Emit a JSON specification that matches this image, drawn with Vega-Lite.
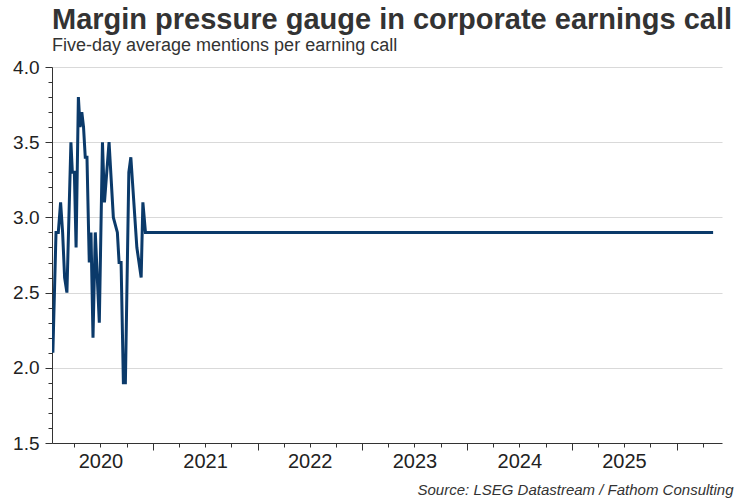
{
  "$schema": "https://vega.github.io/schema/vega-lite/v6.json",
  "width": 670,
  "height": 376,
  "autosize": "none",
  "padding": {"left": 52, "top": 67, "right": 28, "bottom": 57},
  "background": "white",
  "title": {
    "text": "Margin pressure gauge in corporate earnings call",
    "subtitle": "Five-day average mentions per earning call",
    "anchor": "start",
    "frame": "group",
    "offset": 3,
    "font": "Liberation Sans",
    "fontSize": 29,
    "fontWeight": "bold",
    "color": "#333333",
    "subtitleFont": "Liberation Sans",
    "subtitleFontSize": 18,
    "subtitleColor": "#333333",
    "subtitlePadding": 2
  },
  "config": {
    "view": {"stroke": null},
    "axis": {
      "labelFont": "Liberation Sans",
      "titleFont": "Liberation Sans",
      "domainColor": "#333333",
      "tickColor": "#333333",
      "labelColor": "#222222"
    }
  },
  "data": {
    "values": [
      {"date": "2020-01-17", "mentions": 2.1},
      {"date": "2020-01-28", "mentions": 2.9},
      {"date": "2020-02-05", "mentions": 2.9},
      {"date": "2020-02-13", "mentions": 3.1},
      {"date": "2020-02-20", "mentions": 2.9},
      {"date": "2020-02-27", "mentions": 2.6},
      {"date": "2020-03-06", "mentions": 2.5},
      {"date": "2020-03-20", "mentions": 3.5},
      {"date": "2020-03-25", "mentions": 3.3},
      {"date": "2020-04-01", "mentions": 3.3},
      {"date": "2020-04-07", "mentions": 2.8},
      {"date": "2020-04-15", "mentions": 3.8},
      {"date": "2020-04-21", "mentions": 3.6},
      {"date": "2020-04-27", "mentions": 3.7},
      {"date": "2020-05-03", "mentions": 3.6},
      {"date": "2020-05-09", "mentions": 3.4},
      {"date": "2020-05-15", "mentions": 3.4},
      {"date": "2020-05-23", "mentions": 2.7},
      {"date": "2020-05-29", "mentions": 2.9},
      {"date": "2020-06-05", "mentions": 2.2},
      {"date": "2020-06-13", "mentions": 2.9},
      {"date": "2020-06-27", "mentions": 2.3},
      {"date": "2020-07-08", "mentions": 3.5},
      {"date": "2020-07-15", "mentions": 3.1},
      {"date": "2020-07-31", "mentions": 3.5},
      {"date": "2020-08-15", "mentions": 3.0},
      {"date": "2020-08-29", "mentions": 2.9},
      {"date": "2020-09-04", "mentions": 2.7},
      {"date": "2020-09-11", "mentions": 2.7},
      {"date": "2020-09-19", "mentions": 1.9},
      {"date": "2020-09-26", "mentions": 1.9},
      {"date": "2020-10-08", "mentions": 3.3},
      {"date": "2020-10-15", "mentions": 3.4},
      {"date": "2020-11-05", "mentions": 2.8},
      {"date": "2020-11-20", "mentions": 2.6},
      {"date": "2020-11-26", "mentions": 3.1},
      {"date": "2020-12-05", "mentions": 2.9},
      {"date": "2026-05-08", "mentions": 2.9}
    ]
  },
  "mark": {"type": "line", "color": "#0b3a6a", "strokeWidth": 3, "clip": true},
  "encoding": {
    "x": {
      "field": "date",
      "type": "temporal",
      "scale": {"domain": ["2020-01-14", "2026-06-08"]},
      "axis": {
        "title": "Source: LSEG Datastream / Fathom Consulting",
        "titleFontStyle": "italic",
        "titleFontWeight": "normal",
        "titleFontSize": 15,
        "titleColor": "#333333",
        "titleAnchor": "end",
        "titleAlign": "right",
        "titleBaseline": "alphabetic",
        "titleX": 681,
        "titleY": 51,
        "grid": false,
        "tickCount": {"interval": "month", "step": 3},
        "tickSize": {"expr": "month(datum.value) == 0 ? 7 : 4"},
        "labelExpr": "month(datum.value) == 6 ? timeFormat(datum.value, '%Y') : ''",
        "labelFontSize": 20,
        "labelPadding": 4,
        "labelFlush": false,
        "labelOverlap": false
      }
    },
    "y": {
      "field": "mentions",
      "type": "quantitative",
      "scale": {"domain": [1.5, 4.0], "nice": false, "zero": false},
      "axis": {
        "title": null,
        "values": [1.5, 1.6, 1.7, 1.8, 1.9, 2.0, 2.1, 2.2, 2.3, 2.4, 2.5, 2.6, 2.7, 2.8, 2.9, 3.0, 3.1, 3.2, 3.3, 3.4, 3.5, 3.6, 3.7, 3.8, 3.9, 4.0],
        "labelExpr": "abs(datum.value * 2 - round(datum.value * 2)) < 0.001 ? format(datum.value, '.1f') : ''",
        "tickSize": {"expr": "abs(datum.value * 2 - round(datum.value * 2)) < 0.001 ? 7 : 4"},
        "grid": true,
        "gridColor": "#d9d9d9",
        "gridOpacity": {"expr": "abs(datum.value * 2 - round(datum.value * 2)) < 0.001 && datum.value > 1.6 ? 1 : 0"},
        "labelFontSize": 19,
        "labelPadding": 6,
        "labelOverlap": false
      }
    }
  }
}
